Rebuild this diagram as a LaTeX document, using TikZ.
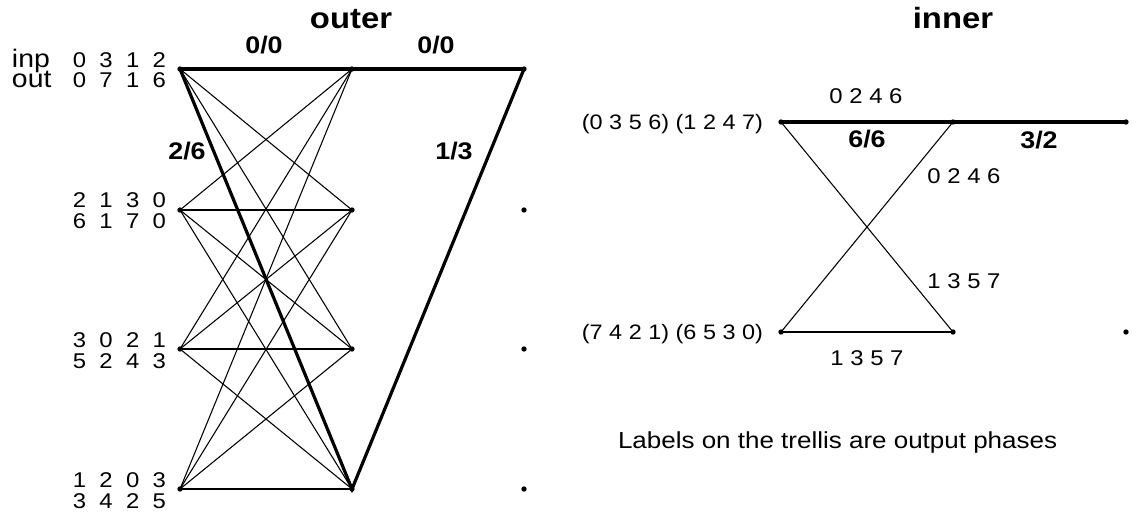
\documentclass[tikz,border=0pt]{standalone}
\usepackage{fontspec}
\setmainfont{Liberation Sans}[FakeStretch=1.12]
\newcommand\digrow[4]{#1\hspace{10pt}#2\hspace{10pt}#3\hspace{10pt}#4}
\begin{document}
\begin{tikzpicture}[x=0.75pt,y=-0.75pt,
  dot/.style={circle,fill=black,inner sep=0pt,minimum size=4pt},
  thinedge/.style={line width=0.8pt},
  pathedge/.style={line width=2.4pt},
  txt/.style={inner sep=0pt,outer sep=0pt},
  title/.style={txt,anchor=base,font=\fontsize{22}{26}\selectfont\bfseries},
  branch/.style={txt,anchor=base,font=\fontsize{18}{21}\selectfont\bfseries},
  digits/.style={txt,anchor=base east,font=\fontsize{16}{19}\selectfont},
  io/.style={txt,anchor=base west,font=\fontsize{19}{22}\selectfont},
  phase/.style={txt,anchor=base,font=\fontsize{16}{19}\selectfont},
  state/.style={txt,anchor=base east,font=\fontsize{15.7}{19}\selectfont},
  note/.style={txt,anchor=base west,font=\fontsize{17.4}{21}\selectfont}]
\useasboundingbox (0,0) rectangle (1139,515);

% ---- outer trellis: three columns of four states ----
\foreach \r/\y in {1/69,2/210,3/349,4/489}{
  \node[dot] (o1\r) at (180,\y) {};
  \node[dot] (o2\r) at (352,\y) {};
  \node[dot] (o3\r) at (524,\y) {};
}
% all transitions of the first stage
\foreach \a in {1,2,3,4}{
  \foreach \b in {1,2,3,4}{
    \draw[thinedge] (o1\a.center) -- (o2\b.center);
  }
}
% surviving path
\draw[pathedge] (o11.center) -- (o21.center) -- (o31.center);
\draw[pathedge] (o11.center) -- (o24.center) -- (o31.center);

% state labels: input / output phases
\node[io] (lin) at (12,67) {inp};
\node[io] (lout) at (12,87) {out};
\node[digits] (i1) at (166,67) {\digrow0312};
\node[digits] (u1) at (166,87) {\digrow0716};
\node[digits] (i2) at (166,207) {\digrow2130};
\node[digits] (u2) at (166,228) {\digrow6170};
\node[digits] (i3) at (166,347) {\digrow3021};
\node[digits] (u3) at (166,368) {\digrow5243};
\node[digits] (i4) at (166,487) {\digrow1203};
\node[digits] (u4) at (166,508) {\digrow3425};

\node[title] (touter) at (351,28) {outer};
\node[branch] (b1) at (264,53) {0/0};
\node[branch] (b2) at (436,53) {0/0};
\node[branch] (b3) at (187,159) {2/6};
\node[branch] (b4) at (454,159) {1/3};

% ---- inner trellis: two states ----
\foreach \r/\y in {1/122,2/332}{
  \node[dot] (n1\r) at (781,\y) {};
  \node[dot] (n2\r) at (953,\y) {};
  \node[dot] (n3\r) at (1126,\y) {};
}
\draw[thinedge] (n11.center) -- (n22.center);
\draw[thinedge] (n12.center) -- (n21.center);
\draw[thinedge] (n12.center) -- (n22.center);
\draw[pathedge] (n11.center) -- (n21.center) -- (n31.center);

\node[title] (tinner) at (953,28) {inner};
\node[state] (s1) at (763,129) {(0 3 5 6) (1 2 4 7)};
\node[state] (s2) at (763,339) {(7 4 2 1) (6 5 3 0)};
\node[phase] (p1) at (866,103) {0 2 4 6};
\node[phase] (p2) at (964,183) {0 2 4 6};
\node[phase] (p3) at (964,288) {1 3 5 7};
\node[phase] (p4) at (867,365) {1 3 5 7};
\node[branch] (b5) at (867,147) {6/6};
\node[branch] (b6) at (1039,148) {3/2};

\node[note] (caption) at (618,448) {Labels on the trellis are output phases};
\end{tikzpicture}
\end{document}
